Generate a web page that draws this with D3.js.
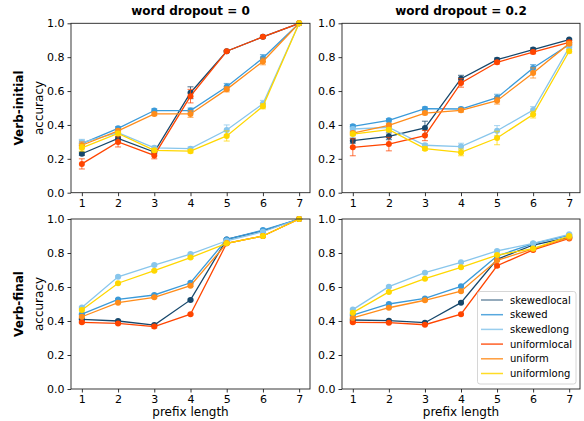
<!DOCTYPE html>
<html><head><meta charset="utf-8">
<script src="https://cdn.jsdelivr.net/npm/d3@7"></script>
<style>body{margin:0;background:#fff}svg{display:block}</style>
</head><body>
<svg id="c" width="584" height="421"></svg>
<script>
const prefixLengths = [1,2,3,4,5,6,7];
const seriesNames = ["skewedlocal","skewed","skewedlong","uniformlocal","uniform","uniformlong"];
const seriesColors = ["#16476b","#3a9ad9","#88c6ec","#ff4500","#ff8c1a","#ffd700"];
const columnTitles = ["word dropout = 0","word dropout = 0.2"];
const rowTitles = ["Verb-initial","Verb-final"];
const yTicks = [0,0.2,0.4,0.6,0.8,1.0];

// Verb-initial, word dropout = 0
const vi0 = {
  skewedlocal:  [0.23,0.32,0.24,0.59,0.835,0.92,1.0],
  skewed:       [0.29,0.38,0.485,0.485,0.625,0.795,1.0],
  skewedlong:   [0.295,0.355,0.265,0.26,0.37,0.525,1.0],
  uniformlocal: [0.17,0.30,0.22,0.57,0.835,0.92,1.0],
  uniform:      [0.28,0.365,0.465,0.465,0.61,0.775,1.0],
  uniformlong:  [0.265,0.35,0.25,0.245,0.335,0.51,1.0]
};
const vi0Err = {
  skewedlocal:  [0.01,0.01,0.01,0.035,0.005,0.005,0],
  skewed:       [0.02,0.01,0.01,0.015,0.02,0.02,0],
  skewedlong:   [0.02,0.01,0.01,0.01,0.03,0.02,0],
  uniformlocal: [0.03,0.03,0.02,0.04,0.005,0.005,0],
  uniform:      [0.02,0.01,0.01,0.02,0.015,0.02,0],
  uniformlong:  [0.02,0.01,0.01,0.01,0.03,0.015,0]
};
// Verb-initial, word dropout = 0.2
const vi2 = {
  skewedlocal:  [0.307,0.333,0.382,0.673,0.785,0.845,0.904],
  skewed:       [0.392,0.427,0.496,0.494,0.561,0.736,0.875],
  skewedlong:   [0.376,0.386,0.28,0.272,0.366,0.488,0.858],
  uniformlocal: [0.268,0.287,0.337,0.648,0.77,0.83,0.888],
  uniform:      [0.352,0.398,0.47,0.486,0.543,0.707,0.88],
  uniformlong:  [0.346,0.372,0.26,0.238,0.323,0.461,0.835]
};
const vi2Err = {
  skewedlocal:  [0.015,0.02,0.04,0.02,0.01,0.01,0.005],
  skewed:       [0.01,0.01,0.01,0.01,0.02,0.02,0.01],
  skewedlong:   [0.01,0.01,0.01,0.02,0.03,0.02,0.01],
  uniformlocal: [0.05,0.04,0.03,0.025,0.01,0.01,0.01],
  uniform:      [0.01,0.01,0.01,0.01,0.02,0.03,0.01],
  uniformlong:  [0.01,0.01,0.01,0.02,0.04,0.02,0.01]
};
// Verb-final, word dropout = 0
const vf0 = {
  skewedlocal:  [0.41,0.40,0.376,0.524,0.88,0.93,1.0],
  skewed:       [0.44,0.527,0.553,0.625,0.88,0.935,1.0],
  skewedlong:   [0.48,0.66,0.729,0.794,0.872,0.925,1.0],
  uniformlocal: [0.392,0.386,0.367,0.44,0.857,0.90,1.0],
  uniform:      [0.425,0.508,0.539,0.608,0.857,0.90,1.0],
  uniformlong:  [0.465,0.622,0.696,0.773,0.857,0.90,1.0]
};
const vf0Err = {
  skewedlocal:  [0.005,0.005,0.005,0.005,0.005,0.005,0],
  skewed:       [0.005,0.005,0.005,0.005,0.005,0.005,0],
  skewedlong:   [0.005,0.005,0.005,0.005,0.005,0.005,0],
  uniformlocal: [0.005,0.005,0.008,0.005,0.005,0.005,0],
  uniform:      [0.005,0.005,0.005,0.005,0.005,0.005,0],
  uniformlong:  [0.005,0.005,0.005,0.005,0.005,0.005,0]
};
// Verb-final, word dropout = 0.2
const vf2 = {
  skewedlocal:  [0.406,0.402,0.39,0.508,0.763,0.847,0.892],
  skewed:       [0.435,0.50,0.533,0.604,0.782,0.855,0.904],
  skewedlong:   [0.467,0.602,0.684,0.745,0.812,0.857,0.91],
  uniformlocal: [0.392,0.39,0.378,0.44,0.725,0.818,0.886],
  uniform:      [0.418,0.478,0.522,0.575,0.757,0.824,0.89],
  uniformlong:  [0.449,0.571,0.649,0.716,0.788,0.826,0.90]
};
const vf2Err = {
  skewedlocal:  [0.005,0.005,0.005,0.005,0.005,0.005,0.005],
  skewed:       [0.005,0.005,0.005,0.005,0.005,0.005,0.005],
  skewedlong:   [0.005,0.005,0.005,0.005,0.005,0.005,0.005],
  uniformlocal: [0.005,0.005,0.005,0.005,0.008,0.005,0.005],
  uniform:      [0.005,0.005,0.005,0.005,0.005,0.005,0.005],
  uniformlong:  [0.005,0.005,0.005,0.005,0.005,0.005,0.005]
};

const panels = [
  {row:0,col:0,data:vi0,err:vi0Err},
  {row:0,col:1,data:vi2,err:vi2Err},
  {row:1,col:0,data:vf0,err:vf0Err},
  {row:1,col:1,data:vf2,err:vf2Err}
];

const colX = [[71,310],[342,580]];
const rowY = [[23.3,192.7],[219,389]];
const font = "DejaVu Sans, sans-serif";
const svg = d3.select("#c");

panels.forEach(p => {
  const [x0,x1] = colX[p.col], [y0,y1] = rowY[p.row];
  const x = d3.scaleLinear().domain([0.7,7.3]).range([x0,x1]);
  const y = d3.scaleLinear().domain([0,1]).range([y1,y0]);
  const g = svg.append("g");

  const xa = g.append("g").attr("transform",`translate(0,${y1})`)
    .call(d3.axisBottom(x).tickValues(prefixLengths).tickFormat(d3.format("d")).tickSize(3.5).tickPadding(3));
  const ya = g.append("g").attr("transform",`translate(${x0},0)`)
    .call(d3.axisLeft(y).tickValues(yTicks).tickFormat(d3.format(".1f")).tickSize(3.5).tickPadding(3));
  [xa,ya].forEach(a => {
    a.select(".domain").remove();
    a.selectAll("text").attr("font-family",font).attr("font-size",11).attr("fill","#000");
    a.selectAll("line").attr("stroke","#000").attr("stroke-width",0.8);
  });

  seriesNames.forEach((name,i) => {
    const vals = p.data[name], errs = p.err[name], col = seriesColors[i];
    const pts = prefixLengths.map((k,j)=>({k,v:vals[j],e:errs[j]}));
    const sg = g.append("g");
    sg.append("path").datum(pts)
      .attr("d", d3.line().x(d=>x(d.k)).y(d=>y(d.v)))
      .attr("fill","none").attr("stroke",col).attr("stroke-width",1.3);
    pts.forEach(d => {
      if (d.e > 0) {
        const cx = x(d.k);
        sg.append("line").attr("x1",cx).attr("x2",cx).attr("y1",y(d.v-d.e)).attr("y2",y(d.v+d.e))
          .attr("stroke",col).attr("stroke-width",1).attr("opacity",0.75);
        [d.v-d.e,d.v+d.e].forEach(v => sg.append("line").attr("x1",cx-3).attr("x2",cx+3)
          .attr("y1",y(v)).attr("y2",y(v)).attr("stroke",col).attr("stroke-width",1).attr("opacity",0.75));
      }
    });
    sg.selectAll("circle").data(pts).join("circle")
      .attr("cx",d=>x(d.k)).attr("cy",d=>y(d.v)).attr("r",3).attr("fill",col);
  });

  g.append("rect").attr("x",x0).attr("y",y0).attr("width",x1-x0).attr("height",y1-y0)
    .attr("fill","none").attr("stroke","#222").attr("stroke-width",0.9);

  if (p.row === 0) {
    g.append("text").attr("x",(x0+x1)/2).attr("y",y0-8).attr("text-anchor","middle")
      .attr("font-family",font).attr("font-weight","bold").attr("font-size",12).text(columnTitles[p.col]);
  } else {
    g.append("text").attr("x",(x0+x1)/2).attr("y",y1+27).attr("text-anchor","middle")
      .attr("font-family",font).attr("font-size",12).text("prefix length");
  }
  if (p.col === 0) {
    const cy = (y0+y1)/2;
    g.append("text").attr("transform",`translate(23,${cy}) rotate(-90)`).attr("text-anchor","middle")
      .attr("font-family",font).attr("font-weight","bold").attr("font-size",12).text(rowTitles[p.row]);
    g.append("text").attr("transform",`translate(43,${cy}) rotate(-90)`).attr("text-anchor","middle")
      .attr("font-family",font).attr("font-size",12).text("accuracy");
  }

  if (p.row === 1 && p.col === 1) {
    const lg = g.append("g");
    lg.append("rect").attr("x",477.5).attr("y",291.5).attr("width",98.5).attr("height",92.5).attr("rx",2.5)
      .attr("fill","#fff").attr("fill-opacity",0.8).attr("stroke","#ccc").attr("stroke-width",0.8);
    seriesNames.forEach((name,i) => {
      const ly = 300 + i*14.7;
      lg.append("line").attr("x1",481).attr("x2",503).attr("y1",ly).attr("y2",ly)
        .attr("stroke",seriesColors[i]).attr("stroke-width",1.5).attr("opacity",i===0?0.6:0.85);
      lg.append("text").attr("x",510).attr("y",ly).attr("dy","0.35em")
        .attr("font-family",font).attr("font-size",10).text(name);
    });
  }
});
</script>
</body></html>
